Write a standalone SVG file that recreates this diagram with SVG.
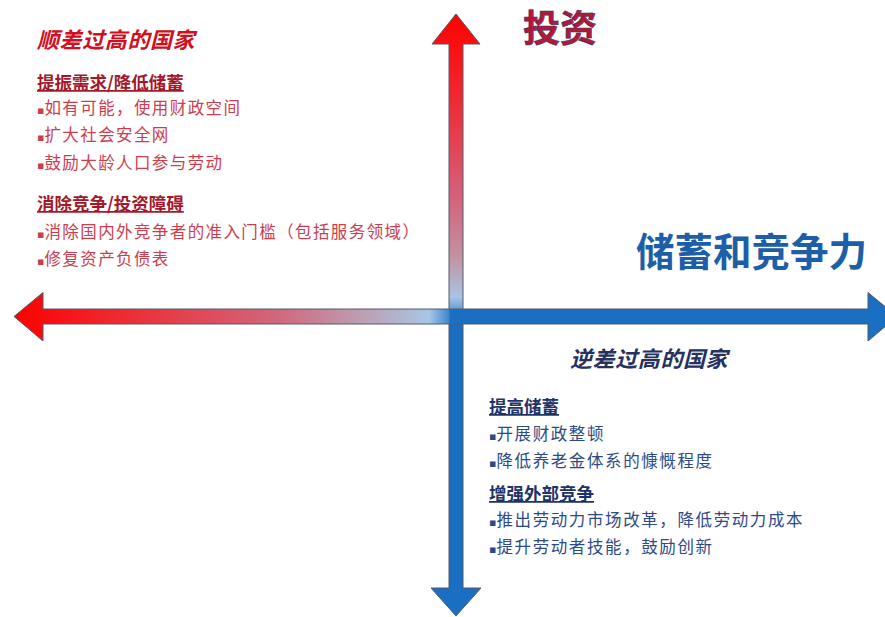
<svg xmlns="http://www.w3.org/2000/svg" width="885" height="617" viewBox="0 0 885 617">
<defs>
<linearGradient id="gv" gradientUnits="userSpaceOnUse" x1="0" y1="14" x2="0" y2="616">
<stop offset="0" stop-color="#ff0000"/>
<stop offset="0.12" stop-color="#f2222a"/>
<stop offset="0.3" stop-color="#d4607a"/>
<stop offset="0.4" stop-color="#c2909f"/>
<stop offset="0.47" stop-color="#a9c4e4"/>
<stop offset="0.49" stop-color="#6a9fd6"/>
<stop offset="0.5" stop-color="#1a6fc2"/>
<stop offset="1" stop-color="#1a6fc2"/>
</linearGradient>
<linearGradient id="gh" gradientUnits="userSpaceOnUse" x1="14" y1="0" x2="897" y2="0">
<stop offset="0" stop-color="#ff0000"/>
<stop offset="0.12" stop-color="#ee2a32"/>
<stop offset="0.3" stop-color="#d0687e"/>
<stop offset="0.4" stop-color="#bba2b6"/>
<stop offset="0.47" stop-color="#a8c6e6"/>
<stop offset="0.49" stop-color="#4b8ed0"/>
<stop offset="0.5" stop-color="#1a6fc2"/>
<stop offset="1" stop-color="#1a6fc2"/>
</linearGradient>
</defs>
<style>
.ax{stroke:#555a66;stroke-width:1;stroke-linejoin:miter}
.cn{font-family:"Noto Sans CJK SC","Noto Sans CJK TC",sans-serif}
.ttl{font-size:22px;font-weight:bold;font-style:italic;letter-spacing:0.6px}
.hd{font-size:17.5px;font-weight:bold;text-decoration:underline}
.bl{font-size:16.5px}
.bu{font-family:"DejaVu Sans",sans-serif;font-size:11px;letter-spacing:0}
.red .ttl{fill:#d0101e}
.red .hd{fill:#a3182a}
.red .bl{fill:#cc3d4e;letter-spacing:1.4px}
.blue .ttl{fill:#26315e}
.blue .hd{fill:#1d3368}
.blue .bl{fill:#2d4a86;letter-spacing:1.6px}
</style>
<g id="connectors">
<path id="axis-vertical" class="ax" fill="url(#gv)" d="M456,14 L480,44 L463,44 L463,588 L481,588 L456,616 L431,588 L449,588 L449,44 L432,44 Z"/>
<path id="axis-horizontal" class="ax" fill="url(#gh)" d="M14,316.5 L43,292.5 L43,309 L868,309 L868,292.5 L897,316.5 L868,341 L868,324 L43,324 L43,341 Z"/>
<rect x="449.5" y="309.5" width="13" height="14" fill="#1a6fc2"/>
</g>
<g id="label-investment">
<text class="cn" x="523" y="42" font-size="37" font-weight="bold" fill="#b01a34" stroke="#3a2f6e" stroke-width="0.6">投资</text>
</g>
<g id="label-savings">
<text class="cn" x="636" y="266" font-size="38.5" font-weight="bold" fill="#1d5ea8">储蓄和竞争力</text>
</g>
<g id="surplus-countries" class="red cn">
<text class="ttl" x="37" y="48">顺差过高的国家</text>
<text class="hd" x="37" y="89">提振需求/降低储蓄</text>
<text class="bl" x="37" y="114"><tspan class="bu">▪</tspan>如有可能，使用财政空间</text>
<text class="bl" x="37" y="141"><tspan class="bu">▪</tspan>扩大社会安全网</text>
<text class="bl" x="37" y="169"><tspan class="bu">▪</tspan>鼓励大龄人口参与劳动</text>
<text class="hd" x="37" y="210">消除竞争/投资障碍</text>
<text class="bl" x="37" y="238"><tspan class="bu">▪</tspan>消除国内外竞争者的准入门槛（包括服务领域）</text>
<text class="bl" x="37" y="265"><tspan class="bu">▪</tspan>修复资产负债表</text>
</g>
<g id="deficit-countries" class="blue cn">
<text class="ttl" x="570" y="367">逆差过高的国家</text>
<text class="hd" x="489" y="413">提高储蓄</text>
<text class="bl" x="489" y="440"><tspan class="bu">▪</tspan>开展财政整顿</text>
<text class="bl" x="489" y="467"><tspan class="bu">▪</tspan>降低养老金体系的慷慨程度</text>
<text class="hd" x="489" y="500">增强外部竞争</text>
<text class="bl" x="489" y="526"><tspan class="bu">▪</tspan>推出劳动力市场改革，降低劳动力成本</text>
<text class="bl" x="489" y="553"><tspan class="bu">▪</tspan>提升劳动者技能，鼓励创新</text>
</g>
</svg>
